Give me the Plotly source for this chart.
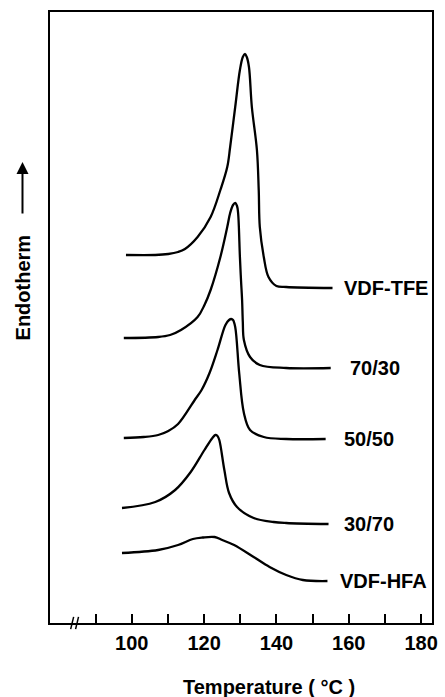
import plotly.graph_objects as go

# ---- data ----
tfe_T = [98.4, 106.5, 110.1, 112.8, 114.7, 118.2, 121.8, 124.5, 126.4, 127.2, 128.6, 129.9, 130.7,
         131.3, 131.8, 132.4, 133.2, 134.6, 135.1, 135.4, 136.5, 137.8, 140.0, 142.7, 155.5]
tfe_y = [368, 368, 369, 371, 374, 386, 406, 433, 456, 476, 516, 553, 566,
         569, 566, 556, 516, 473, 433, 396, 366, 346, 337, 336, 335]

c7030_T = [97.8, 107.3, 110.6, 113.6, 118.2, 120.1, 121.8, 124.5, 126.4, 127.2, 128.0, 128.6, 129.1, 129.4,
           129.9, 130.2, 130.5, 130.7, 131.0, 132.7, 135.4, 142.7, 155.0]
c7030_y = [285, 286, 288, 293, 306, 318, 333, 366, 396, 410, 418, 420, 417, 410,
           366, 343, 323, 301, 283, 266, 258, 255, 255]

c5050_T = [97.8, 103.3, 107.3, 110.1, 112.8, 117.4, 119.3, 121.5, 123.7, 125.9, 126.9, 127.5, 128.0, 128.6,
           129.7, 131.0, 132.7, 136.5, 142.7, 153.6]
c5050_y = [185, 186, 188, 192, 199, 223, 233, 250, 273, 298, 303, 304, 303, 296,
           250, 210, 193, 186, 184, 184]

c3070_T = [97.3, 106.5, 112.0, 116.3, 120.1, 122.3, 123.1, 123.7, 124.2, 125.6, 126.9, 129.1, 133.7,
           139.2, 142.7, 154.4]
c3070_y = [115, 121, 133, 151, 173, 185, 188, 187, 183, 153, 130, 116, 105, 101, 100, 99]

hfa_T = [97.3, 107.3, 112.8, 116.9, 119.6, 122.9, 125.0, 128.3, 133.7, 138.1, 142.7, 147.3, 154.1]
hfa_y = [70, 73, 78, 84, 85.5, 86, 83, 78, 66, 56, 48, 43, 42]

series_names = ["VDF-TFE", "70/30", "50/50", "30/70", "VDF-HFA"]
series_T = [tfe_T, c7030_T, c5050_T, c3070_T, hfa_T]
series_y = [tfe_y, c7030_y, c5050_y, c3070_y, hfa_y]
label_x = [158.0, 159.9, 158.2, 158.2, 157.1]

tick_vals = [90, 100, 110, 120, 130, 140, 150, 160, 170, 180]
tick_text = ["", "100", "", "120", "", "140", "", "160", "", "180"]

FONT = "Liberation Sans"

fig = go.Figure()
for name, T, y in zip(series_names, series_T, series_y):
    fig.add_trace(go.Scatter(x=T, y=y, mode="lines", name=name,
                             line=dict(color="black", width=2.3, shape="spline", smoothing=1.0),
                             showlegend=False, hoverinfo="skip"))

annotations = []
for name, T, y, lx in zip(series_names, series_T, series_y, label_x):
    annotations.append(dict(x=lx, y=y[-1], xref="x", yref="y", text="<b>%s</b>" % name,
                            showarrow=False, xanchor="left", yanchor="middle",
                            font=dict(family=FONT, size=20, color="black")))

# y-axis label with arrow
annotations.append(dict(x=-0.072, y=0.55, xref="paper", yref="paper", text="<b>Endotherm</b>",
                        textangle=-90, showarrow=False, xanchor="center", yanchor="middle",
                        font=dict(family=FONT, size=20, color="black")))
annotations.append(dict(x=-0.072, y=0.7545, xref="paper", yref="paper", text="",
                        showarrow=True, ax=0, ay=53, axref="pixel", ayref="pixel",
                        arrowhead=2, arrowsize=1.2, arrowwidth=2, arrowcolor="black"))
# x-axis title
annotations.append(dict(x=0.572, y=-0.105, xref="paper", yref="paper",
                        text="<b>Temperature ( °C )</b>", showarrow=False,
                        xanchor="center", yanchor="middle",
                        font=dict(family=FONT, size=20, color="black")))

shapes = [
    dict(type="line", xref="paper", yref="paper", x0=0.0541, y0=-0.010, x1=0.0619, y1=0.010,
         line=dict(color="black", width=1.5)),
    dict(type="line", xref="paper", yref="paper", x0=0.0670, y0=-0.010, x1=0.0747, y1=0.010,
         line=dict(color="black", width=1.5)),
]

fig.update_layout(
    width=445, height=697, autosize=False,
    margin=dict(l=50, r=7, t=12, b=74, pad=0),
    paper_bgcolor="white", plot_bgcolor="white",
    annotations=annotations, shapes=shapes,
    xaxis=dict(range=[77.4, 183.0], tickvals=tick_vals, ticktext=tick_text,
               ticks="inside", ticklen=9, tickwidth=1.5, tickcolor="black",
               showline=True, linecolor="black", linewidth=1.5, mirror=True,
               showgrid=False, zeroline=False, ticklabelstandoff=1,
               tickfont=dict(family=FONT, size=20, color="black", weight="bold")),
    yaxis=dict(range=[0, 611], showticklabels=False, ticks="",
               showline=True, linecolor="black", linewidth=1.5, mirror=True,
               showgrid=False, zeroline=False),
)

fig.write_html("out.html")
